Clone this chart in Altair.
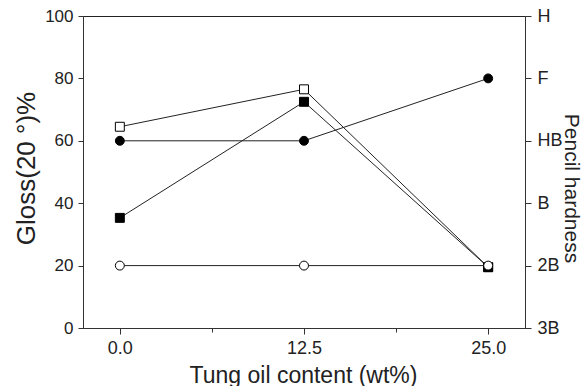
import altair as alt
import pandas as pd

# ---- data ----
tung_oil = [0.0, 12.5, 25.0]
open_square = [64.5, 76.5, 19.5]
filled_square = [35.3, 72.5, 19.5]
filled_circle = [60.0, 60.0, 80.0]
open_circle = [20.0, 20.0, 20.0]

hardness_values = [0, 20, 40, 60, 80, 100]
hardness_labels = ["3B", "2B", "B", "HB", "F", "H"]
x_ticks = [0.0, 6.25, 12.5, 18.75, 25.0]
x_major = [0.0, 12.5, 25.0]
y_ticks = [0, 10, 20, 30, 40, 50, 60, 70, 80, 90, 100]

series_order = ["open_square", "filled_square", "filled_circle", "open_circle"]
series_vals = {
    "open_square": open_square,
    "filled_square": filled_square,
    "filled_circle": filled_circle,
    "open_circle": open_circle,
}
series_shape = {"open_square": "square", "filled_square": "square",
                "filled_circle": "circle", "open_circle": "circle"}
series_fill = {"open_square": "white", "filled_square": "black",
               "filled_circle": "black", "open_circle": "white"}

rows = []
for i, s in enumerate(series_order):
    for x, y in zip(tung_oil, series_vals[s]):
        rows.append({"series": s, "order": i, "x": x, "y": y})
df = pd.DataFrame(rows)

FONT = "Liberation Sans"
INK = "#222222"

x_minor_test = " || ".join(f"datum.value == {v}" for v in x_ticks if v not in x_major)
x_scale = alt.Scale(domain=[-2.5, 27.5], nice=False, zero=False)
y_scale = alt.Scale(domain=[0, 100], nice=False)

x_axis = alt.Axis(
    values=x_ticks,
    labelExpr=f"({x_minor_test}) ? '' : format(datum.value, '.1f')",
    tickSize={"condition": {"test": x_minor_test, "value": 4}, "value": 6},
    labelPadding=5,
    labelFontSize=18,
    title="Tung oil content (wt%)",
    titleFontSize=23,
    titleFontWeight="normal",
    titleBaseline="top",
    titleY=36,
    titleX=220,
    grid=False,
)

y_axis = alt.Axis(
    values=y_ticks,
    labelExpr="datum.value % 20 == 0 ? format(datum.value, 'd') : ''",
    tickSize={"condition": {"test": "datum.value % 20 != 0", "value": 3}, "value": 5},
    labelPadding=5,
    labelFontSize=17,
    title="Gloss(20 °)%",
    titleFontSize=26,
    titleFontWeight="normal",
    titleAngle=270,
    titleBaseline="bottom",
    titleX=-44,
    titleY=152,
    grid=False,
)

hardness_map = "{" + ",".join(f"'{v}':'{l}'" for v, l in zip(hardness_values, hardness_labels)) + "}"
right_axis = alt.Axis(
    orient="right",
    values=hardness_values,
    labelExpr=f"{hardness_map}['' + datum.value]",
    tickSize=6,
    labelPadding=6,
    labelFontSize=18,
    title="Pencil hardness",
    titleFontSize=21,
    titleFontWeight="normal",
    titleAngle=90,
    titleBaseline="bottom",
    titleX=35,
    titleY=172,
    grid=False,
)

base = alt.Chart(df)

lines = base.mark_line(color=INK, strokeWidth=1).encode(
    x=alt.X("x:Q", scale=x_scale, axis=x_axis),
    y=alt.Y("y:Q", scale=y_scale, axis=y_axis),
    detail="series:N",
)

points = base.mark_point(size=80, strokeWidth=1, stroke="black", opacity=1).encode(
    x=alt.X("x:Q", scale=x_scale),
    y=alt.Y("y:Q", scale=y_scale),
    shape=alt.Shape("series:N", scale=alt.Scale(domain=series_order,
                                                 range=[series_shape[s] for s in series_order]),
                    legend=None),
    fill=alt.Fill("series:N", scale=alt.Scale(domain=series_order,
                                               range=[series_fill[s] for s in series_order]),
                  legend=None),
    order=alt.Order("order:Q"),
)

left_layer = alt.layer(lines, points)

hard_df = pd.DataFrame({"h": hardness_values, "lab": hardness_labels})
right_layer = alt.Chart(hard_df).mark_point(opacity=0).encode(
    y=alt.Y("h:Q", scale=alt.Scale(domain=[0, 100], nice=False), axis=right_axis),
)

chart = alt.layer(left_layer, right_layer).resolve_scale(
    y="independent"
).properties(
    width=442,
    height=312,
    autosize=alt.AutoSizeParams(type="none"),
    padding={"left": 83, "top": 16, "right": 58, "bottom": 58},
    background="white",
).configure_view(
    stroke=INK, strokeWidth=1
).configure_axis(
    labelFont=FONT, titleFont=FONT, labelColor=INK, titleColor=INK,
    domainColor="#333333", tickColor="#333333", domainWidth=1, tickWidth=1,
)

chart.save("out.html", embed_options={"renderer": "svg", "actions": False})
